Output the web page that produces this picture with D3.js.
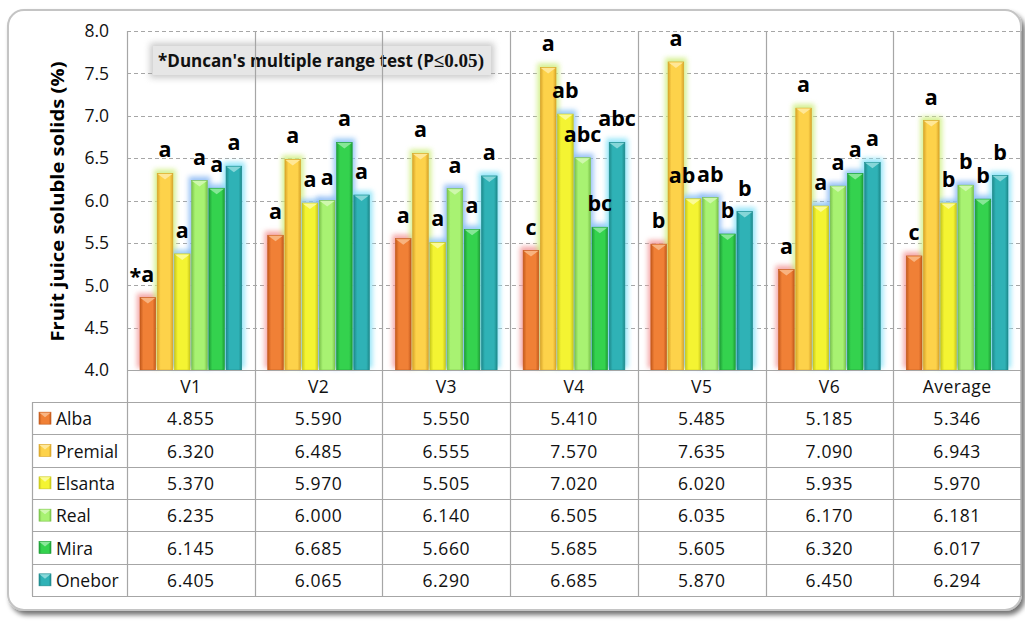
<!DOCTYPE html>
<html>
<head>
<meta charset="utf-8">
<script src="https://cdn.jsdelivr.net/npm/d3@7"></script>
<style>
  html, body { margin: 0; padding: 0; background: #ffffff; }
  svg { display: block; }
</style>
</head>
<body>
<svg id="chart" width="1025" height="624"></svg>
<script>
// ---- data ----
const categories = ["V1", "V2", "V3", "V4", "V5", "V6", "Average"];
const seriesNames = ["Alba", "Premial", "Elsanta", "Real", "Mira", "Onebor"];

const alba    = [4.855, 5.590, 5.550, 5.410, 5.485, 5.185, 5.346];
const premial = [6.320, 6.485, 6.555, 7.570, 7.635, 7.090, 6.943];
const elsanta = [5.370, 5.970, 5.505, 7.020, 6.020, 5.935, 5.970];
const real    = [6.235, 6.000, 6.140, 6.505, 6.035, 6.170, 6.181];
const mira    = [6.145, 6.685, 5.660, 5.685, 5.605, 6.320, 6.017];
const onebor  = [6.405, 6.065, 6.290, 6.685, 5.870, 6.450, 6.294];

// Duncan groupings, one per bar
const albaLetters    = ["a", "a", "a", "c", "b", "a", "c"];
const premialLetters = ["a", "a", "a", "a", "a", "a", "a"];
const elsantaLetters = ["a", "a", "a", "ab", "ab", "a", "b"];
const realLetters    = ["a", "a", "a", "abc", "ab", "a", "b"];
const miraLetters    = ["a", "a", "a", "bc", "b", "a", "b"];
const oneborLetters  = ["a", "a", "a", "abc", "b", "a", "b"];

const yTicks = [4.0, 4.5, 5.0, 5.5, 6.0, 6.5, 7.0, 7.5, 8.0];
const yTitle = "Fruit juice soluble solids (%)";
const noteText = "*Duncan's multiple range test (P";
const noteTail = "\u22640.05)";

// ---- styling ----
const seriesValues = [alba, premial, elsanta, real, mira, onebor];
const seriesLetters = [albaLetters, premialLetters, elsantaLetters, realLetters, miraLetters, oneborLetters];
const baseColors  = ["#f08036", "#fdd24a", "#f4f432", "#a8f272", "#34d24e", "#2fb2b6"];
const edgeColors  = ["#c45a1c", "#d9a52a", "#c9c81c", "#7cc44c", "#1e9e36", "#1e8a8c"];
const lightColors = ["#f8b584", "#ffe89a", "#fbfb9a", "#d0f8b0", "#8ae89a", "#8ad8da"];
const glowColors  = ["#f39a9a", "#cfee80", "#8cc4f4", "#88b8f4", "#88c0f4", "#86e2f8"];
// small horizontal nudges keeping neighbouring letters apart
const labelNudge = { "V5|Elsanta": -11 };

const svg = d3.select("#chart");

const plotLeft = 127, plotRight = 1021, plotTop = 31, plotBottom = 370;
const tableTop = 370, headerH = 32, rowsTop = 402, rowsBottom = 596;
const legendLeft = 32;
const rowH = (rowsBottom - rowsTop) / seriesNames.length;

const defs = svg.append("defs");

// frame shadow
const fs = defs.append("filter").attr("id", "frameShadow")
  .attr("x", "-5%").attr("y", "-5%").attr("width", "110%").attr("height", "110%");
fs.append("feGaussianBlur").attr("in", "SourceAlpha").attr("stdDeviation", 2.5).attr("result", "b");
fs.append("feOffset").attr("in", "b").attr("dx", 3).attr("dy", 4).attr("result", "o");
fs.append("feComponentTransfer").attr("in", "o").attr("result", "s")
  .append("feFuncA").attr("type", "linear").attr("slope", 0.55);
const fm = fs.append("feMerge");
fm.append("feMergeNode").attr("in", "s");
fm.append("feMergeNode").attr("in", "SourceGraphic");

// soft glow behind bars
defs.append("filter").attr("id", "glow")
  .attr("x", "-100%").attr("y", "-20%").attr("width", "300%").attr("height", "140%")
  .append("feGaussianBlur").attr("stdDeviation", 2.6);

// note box shadow
defs.append("filter").attr("id", "noteShadow")
  .attr("x", "-10%").attr("y", "-50%").attr("width", "120%").attr("height", "200%")
  .append("feGaussianBlur").attr("stdDeviation", 3);

// horizontal bar gradients
seriesNames.forEach((s, i) => {
  const g = defs.append("linearGradient").attr("id", "grad" + i)
    .attr("x1", "0").attr("x2", "1").attr("y1", "0").attr("y2", "0");
  g.append("stop").attr("offset", "0%").attr("stop-color", edgeColors[i]);
  g.append("stop").attr("offset", "22%").attr("stop-color", baseColors[i]);
  g.append("stop").attr("offset", "80%").attr("stop-color", baseColors[i]);
  g.append("stop").attr("offset", "100%").attr("stop-color", edgeColors[i]);
});

// outer frame
svg.append("rect")
  .attr("x", 8).attr("y", 10).attr("width", 1013).attr("height", 600)
  .attr("rx", 16).attr("ry", 16)
  .attr("fill", "#ffffff").attr("stroke", "#c4c4c4").attr("stroke-width", 2)
  .attr("filter", "url(#frameShadow)");

// scales
const x = d3.scaleBand().domain(categories).range([plotLeft, plotRight]);
const bw = x.bandwidth();
const xs = d3.scaleBand().domain(seriesNames).range([13, bw - 13]).paddingInner(0.09);
const y = d3.scaleLinear().domain([4, 8]).range([plotBottom, plotTop]);

const gridColor = "#a6a6a6";

// dashed gridlines
svg.append("g").selectAll("line").data(yTicks.filter(t => t > 4)).join("line")
  .attr("x1", plotLeft).attr("x2", plotRight)
  .attr("y1", d => Math.round(y(d)) + 0.5).attr("y2", d => Math.round(y(d)) + 0.5)
  .attr("stroke", gridColor).attr("stroke-width", 1).attr("stroke-dasharray", "4,3");

// y tick labels
svg.append("g").selectAll("text").data(yTicks).join("text")
  .attr("x", 109).attr("y", d => y(d))
  .attr("dy", "0.36em").attr("text-anchor", "end")
  .attr("font-family", "'Open Sans', sans-serif").attr("font-size", 17.5)
  .attr("fill", "#111").text(d => d3.format(".1f")(d));

// y title
svg.append("text")
  .attr("transform", `translate(64,${(plotTop + plotBottom) / 2 + 1}) rotate(-90)`)
  .attr("text-anchor", "middle")
  .attr("font-family", "'Open Sans', sans-serif").attr("font-weight", "bold")
  .attr("font-size", 17.5).attr("fill", "#000")
  .attr("textLength", 280).attr("lengthAdjust", "spacingAndGlyphs")
  .text(yTitle);

// note box
const note = svg.append("g");
note.append("rect").attr("x", 150).attr("y", 43).attr("width", 344).attr("height", 35)
  .attr("fill", "#a8a8a8").attr("opacity", 0.6).attr("filter", "url(#noteShadow)");
note.append("rect").attr("x", 153).attr("y", 46).attr("width", 338).attr("height", 29)
  .attr("fill", "#e6e6e6");
const nt = note.append("text").attr("x", 158).attr("y", 67)
  .attr("font-family", "'Open Sans', sans-serif").attr("font-weight", "bold")
  .attr("font-size", 17).attr("fill", "#111")
  .attr("textLength", 326).attr("lengthAdjust", "spacingAndGlyphs");
nt.append("tspan").text(noteText);
nt.append("tspan").attr("font-family", "'Liberation Serif', serif").attr("font-size", 19).text(noteTail);

// bars
const groups = svg.append("g").selectAll("g").data(categories).join("g")
  .attr("transform", d => `translate(${x(d)},0)`);

const barData = (c, ci) => seriesNames.map((s, si) => ({
  s, si, v: seriesValues[si][ci], letter: seriesLetters[si][ci], c, ci
}));

// glow layer first
groups.each(function (c, ci) {
  d3.select(this).selectAll("rect.glow").data(barData(c, ci)).join("rect")
    .attr("class", "glow")
    .attr("x", d => xs(d.s) - 3).attr("width", xs.bandwidth() + 6)
    .attr("y", d => y(d.v) - 4).attr("height", d => plotBottom - y(d.v) + 2)
    .attr("fill", d => glowColors[d.si]).attr("opacity", 0.85)
    .attr("filter", "url(#glow)");
});

groups.each(function (c, ci) {
  const g = d3.select(this);
  const data = barData(c, ci);
  g.selectAll("rect.bar").data(data).join("rect")
    .attr("class", "bar")
    .attr("x", d => xs(d.s)).attr("width", xs.bandwidth())
    .attr("y", d => y(d.v)).attr("height", d => plotBottom - y(d.v))
    .attr("fill", d => `url(#grad${d.si})`)
    .attr("stroke", d => edgeColors[d.si]).attr("stroke-width", 0.6);
  // bevelled top
  g.selectAll("path.cap").data(data).join("path")
    .attr("class", "cap")
    .attr("d", d => {
      const x0 = xs(d.s), x1 = x0 + xs.bandwidth(), t = y(d.v);
      return `M${x0 + 0.5},${t + 0.5}L${x1 - 0.5},${t + 0.5}L${(x0 + x1) / 2},${t + 6}Z`;
    })
    .attr("fill", d => lightColors[d.si]).attr("opacity", 0.95);
  // grouping letters
  g.selectAll("text.lbl").data(data).join("text")
    .attr("class", "lbl")
    .attr("x", d => xs(d.s) + xs.bandwidth() / 2 + (labelNudge[d.c + "|" + d.s] || 0))
    .attr("y", d => y(d.v) - 16)
    .attr("text-anchor", "middle")
    .attr("font-family", "'Open Sans', sans-serif").attr("font-weight", "bold")
    .attr("font-size", 21.5).attr("fill", "#000")
    .text(d => d.letter);
});

// asterisk marker ahead of the first grouping letter
{
  const s0 = seriesNames[0], v0 = seriesValues[0][0];
  svg.append("text")
    .attr("x", x(categories[0]) + xs(s0) + xs.bandwidth() / 2 - 6.5)
    .attr("y", y(v0) - 14)
    .attr("text-anchor", "end")
    .attr("font-family", "'Open Sans', sans-serif").attr("font-weight", "bold")
    .attr("font-size", 21.5).attr("fill", "#000")
    .text("*");
}

// axis base line
svg.append("line").attr("x1", plotLeft).attr("x2", plotRight)
  .attr("y1", plotBottom + 0.5).attr("y2", plotBottom + 0.5)
  .attr("stroke", gridColor).attr("stroke-width", 1.2);

// vertical separators through plot and table
const vLines = categories.map(c => x(c)).concat([plotRight]);
svg.append("g").selectAll("line").data(vLines).join("line")
  .attr("x1", d => Math.round(d) + 0.5).attr("x2", d => Math.round(d) + 0.5)
  .attr("y1", plotTop).attr("y2", rowsBottom)
  .attr("stroke", gridColor).attr("stroke-width", 1.2);

// table horizontal rules
const rowLines = d3.range(seriesNames.length + 1).map(i => rowsTop + i * rowH);
svg.append("g").selectAll("line").data(rowLines).join("line")
  .attr("x1", legendLeft).attr("x2", plotRight)
  .attr("y1", d => Math.round(d) + 0.5).attr("y2", d => Math.round(d) + 0.5)
  .attr("stroke", gridColor).attr("stroke-width", 1.2);
svg.append("line")
  .attr("x1", legendLeft + 0.5).attr("x2", legendLeft + 0.5)
  .attr("y1", rowsTop).attr("y2", rowsBottom)
  .attr("stroke", gridColor).attr("stroke-width", 1.2);

// header row: category names
svg.append("g").selectAll("text").data(categories).join("text")
  .attr("x", d => x(d) + bw / 2).attr("y", tableTop + headerH / 2 + 1)
  .attr("dy", "0.36em").attr("text-anchor", "middle")
  .attr("font-family", "'Open Sans', sans-serif").attr("font-size", 17.5)
  .attr("letter-spacing", 0.4).attr("fill", "#111")
  .text(d => d);

// legend column
const legend = svg.append("g").selectAll("g").data(seriesNames).join("g")
  .attr("transform", (d, i) => `translate(0,${rowsTop + i * rowH + rowH / 2})`);
legend.append("rect")
  .attr("x", 39).attr("y", -6).attr("width", 12).attr("height", 12)
  .attr("fill", (d, i) => `url(#grad${i})`)
  .attr("stroke", (d, i) => edgeColors[i]).attr("stroke-width", 0.6);
legend.append("path")
  .attr("d", "M39.5,-5.5L50.5,-5.5L45,-1Z")
  .attr("fill", (d, i) => lightColors[i]);
legend.append("text")
  .attr("x", 56).attr("y", 1).attr("dy", "0.36em")
  .attr("font-family", "'Open Sans', sans-serif").attr("font-size", 17.5)
  .attr("fill", "#111")
  .text(d => d);

// value cells
seriesNames.forEach((s, si) => {
  svg.append("g").selectAll("text").data(seriesValues[si]).join("text")
    .attr("x", (d, ci) => x(categories[ci]) + bw / 2)
    .attr("y", rowsTop + si * rowH + rowH / 2 + 1)
    .attr("dy", "0.36em").attr("text-anchor", "middle")
    .attr("font-family", "'Open Sans', sans-serif").attr("font-size", 17.5)
    .attr("letter-spacing", 0.6).attr("fill", "#111")
    .text(d => d3.format(".3f")(d));
});
</script>
</body>
</html>
